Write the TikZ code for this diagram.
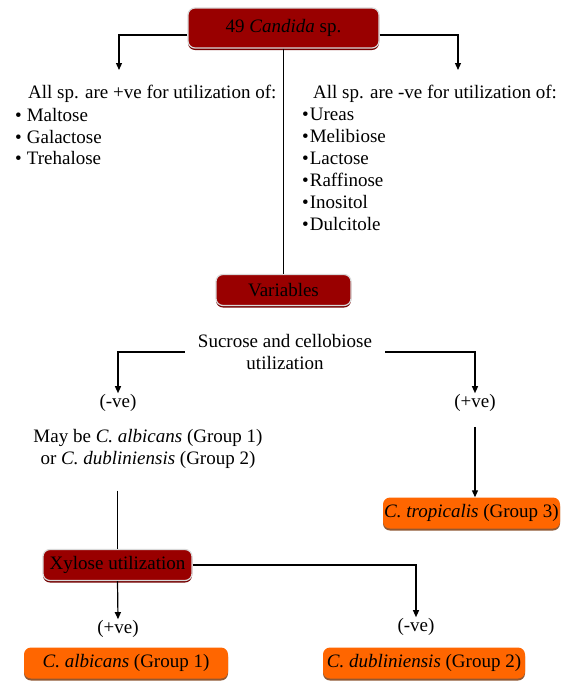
\documentclass[tikz,border=0pt]{standalone}
\usepackage{fontspec}
\setmainfont{Liberation Serif}
\usepackage{tikz}
\usetikzlibrary{calc,arrows.meta,shadows}
\usepackage{xcolor}
\definecolor{boxred}{HTML}{990000}
\definecolor{boxorange}{HTML}{FF6600}
\tikzset{
  redbox/.style={draw=black!15, line width=1.2pt, fill=boxred, rounded corners=7pt, inner sep=0pt,
    drop shadow={shadow xshift=0pt, shadow yshift=-2pt, fill=boxred!75!black, opacity=1}},
  orangebox/.style={fill=boxorange, rounded corners=7pt, inner sep=0pt, minimum height=31,
    drop shadow={shadow xshift=0pt, shadow yshift=-2pt, fill=boxorange!45!black, opacity=0.8}},
  arr/.style={-{Triangle[length=7pt,width=6pt]}, line width=1.2pt},
  link/.style={line width=1.2pt},
  lbl/.style={inner sep=1pt}
}

\begin{document}
\begin{tikzpicture}[x=1pt, y=-1pt, font=\fontsize{19}{21.5}\selectfont]
\useasboundingbox (0,0) rectangle (565,681);
\node [redbox, minimum width=191, minimum height=40] (cand) at (283.5,28) {49 \textit{Candida} sp.};
\coordinate (tipL) at (119,70);
\coordinate (tipR) at (458,70);
\draw [arr] ([yshift=-7pt]cand.west) -| (tipL);
\draw [arr] ([yshift=-7pt]cand.east) -| (tipR);
\node [anchor=base west, inner sep=0] (posHead) at (28,98.5) {All sp. are +ve for utilization of:};
\node [anchor=north west, align=left, inner sep=0] (posList) at (15,108.5) {\textbullet\hspace{5pt}Maltose\\ \textbullet\hspace{5pt}Galactose\\ \textbullet\hspace{5pt}Trehalose};
\node [anchor=base west, inner sep=0] (negHead) at (313,98.5) {All sp. are -ve for utilization of:};
\node [anchor=north west, align=left, inner sep=0, font=\fontsize{19}{22}\selectfont] (negList) at (302,107.5) {\textbullet\hspace{1pt}Ureas\\ \textbullet\hspace{1pt}Melibiose\\ \textbullet\hspace{1pt}Lactose\\ \textbullet\hspace{1pt}Raffinose\\ \textbullet\hspace{1pt}Inositol\\ \textbullet\hspace{1pt}Dulcitole};
\node [redbox, minimum width=135, minimum height=31] (var) at (283.5,290) {Variables};
\draw [link] (cand.south) -- (var.north);
\node [align=center, inner xsep=13pt, inner ysep=0] (sucr) at (285,352) {Sucrose and cellobiose\\utilization};
\node [lbl] (negA) at (118,403) {(-ve)};
\node [lbl] (posB) at (475,403) {(+ve)};
\draw [arr] (sucr.west) -| (negA.north);
\draw [arr] (sucr.east) -| (posB.north);
\node [align=center, inner sep=0] (maybe) at (148,449) {May be \textit{C. albicans} (Group 1)\\or \textit{C. dubliniensis} (Group 2)};
\node [orangebox, minimum width=177] (trop) at (471.5,513) {\textit{C. tropicalis} (Group 3)};
\draw [arr, shorten <=14pt] (posB.south) -- (posB.south |- trop.north);
\node [redbox, minimum width=149, minimum height=31] (xyl) at (117.5,565) {Xylose utilization};
\draw [link, shorten <=22pt] (maybe.south -| xyl.north) -- (xyl.north);
\node [lbl] (posC) at (118,629) {(+ve)};
\node [lbl] (negC) at (416,627) {(-ve)};
\draw [arr] (xyl.south) -- (posC.north);
\draw [arr] (xyl.east) -| (negC.north);
\node [orangebox, minimum width=204] (alb) at (126,663) {\textit{C. albicans} (Group 1)};
\node [orangebox, minimum width=202] (dub) at (424,663) {\textit{C. dubliniensis} (Group 2)};
\end{tikzpicture}
\end{document}
